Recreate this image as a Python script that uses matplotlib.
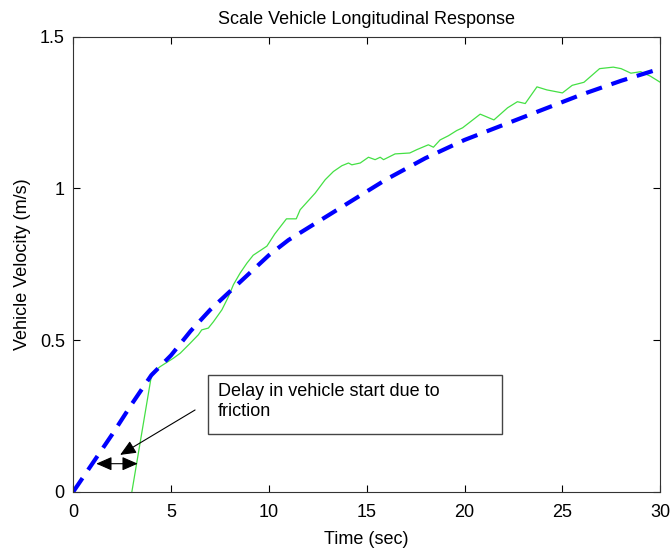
"""Scale vehicle longitudinal response: model vs measured velocity."""

import matplotlib
matplotlib.use("Agg")
import matplotlib.pyplot as plt
from matplotlib.patches import Rectangle

plt.rcParams["font.family"] = ["Liberation Sans", "DejaVu Sans"]

# model (simulated) velocity
model_t = [0, 1, 2, 3, 4, 5, 6, 7, 8, 9, 10, 11, 12, 13, 14, 16, 18, 20,
           22, 24, 26, 28, 30]
model_v = [0, 0.095, 0.19, 0.29, 0.385, 0.45, 0.53, 0.60, 0.66, 0.72, 0.78,
           0.83, 0.87, 0.91, 0.95, 1.03, 1.10, 1.16, 1.21, 1.26, 1.31, 1.355,
           1.395]

# measured velocity from the scale vehicle (starts moving at ~3 s)
meas_t = [3.0, 4.02, 4.45, 5.13, 5.47, 5.98, 6.4, 6.57, 6.91, 7.17, 7.6,
          7.94, 8.19, 8.53, 8.88, 9.2, 9.9, 10.3, 10.9, 11.4, 11.6, 12.37,
          12.88, 13.3, 13.73, 14.07, 14.24, 14.67, 15.09, 15.43, 15.69, 15.86,
          16.45, 17.2, 17.56, 18.15, 18.41, 18.75, 19.18, 19.6, 19.9, 20.8,
          21.5, 22.2, 22.7, 23.1, 23.7, 24.2, 25.0, 25.5, 26.1, 26.9, 27.6,
          28.0, 28.5, 29.0, 29.5, 30]
meas_v = [0, 0.391, 0.413, 0.441, 0.457, 0.49, 0.518, 0.534, 0.54, 0.561,
          0.60, 0.644, 0.683, 0.721, 0.754, 0.78, 0.81, 0.85, 0.90, 0.90,
          0.93, 0.985, 1.029, 1.056, 1.075, 1.084, 1.078, 1.084, 1.103, 1.095,
          1.103, 1.095, 1.114, 1.117, 1.128, 1.144, 1.136, 1.16, 1.174, 1.191,
          1.20, 1.245, 1.226, 1.266, 1.286, 1.28, 1.335, 1.325, 1.315, 1.34,
          1.35, 1.395, 1.40, 1.395, 1.38, 1.385, 1.37, 1.35]

x_ticks = [0, 5, 10, 15, 20, 25, 30]
y_ticks = [0, 0.5, 1, 1.5]
y_tick_labels = ["0", "0.5", "1", "1.5"]

fig = plt.figure(figsize=(6.71, 5.49), dpi=100)
ax = fig.add_axes([0.109, 0.104, 0.875, 0.829])

ax.plot(meas_t, meas_v, color="#44E044", linewidth=0.9)
ax.plot(model_t, model_v, color="#0000FF", linewidth=3, linestyle="--",
        dashes=(4, 2.4))

ax.set_xlim(0, 30)
ax.set_ylim(0, 1.5)
ax.set_xticks(x_ticks)
ax.set_yticks(y_ticks)
ax.set_yticklabels(y_tick_labels)
ax.tick_params(direction="in", top=True, right=True, labelsize=13,
               length=5, width=0.8, pad=6)
ax.tick_params(axis="x", pad=9)
for spine in ax.spines.values():
    spine.set_linewidth(0.8)
    spine.set_color("#333333")

ax.set_title("Scale Vehicle Longitudinal Response", fontsize=13, pad=9)
ax.set_xlabel("Time (sec)", fontsize=13, labelpad=7)
ax.set_ylabel("Vehicle Velocity (m/s)", fontsize=13, labelpad=6)

# annotation box
ax.add_patch(Rectangle((6.9, 0.191), 15.03, 0.195, fill=False,
                       edgecolor="#444444", linewidth=1))
ax.text(7.4, 0.36, "Delay in vehicle start due to\nfriction", fontsize=13,
        va="top", ha="left", linespacing=1.25)

head = "-|>,head_length=0.8,head_width=0.35"
ax.annotate("", xy=(2.4, 0.122), xytext=(6.23, 0.27),
            arrowprops=dict(arrowstyle=head, color="black", lw=0.8,
                            mutation_scale=12, shrinkA=0, shrinkB=0))
ax.annotate("", xy=(1.18, 0.093), xytext=(3.3, 0.093),
            arrowprops=dict(arrowstyle="<|-|>,head_length=0.8,head_width=0.35",
                            color="black", lw=0.8, mutation_scale=12,
                            shrinkA=0, shrinkB=0))

fig.savefig("out.png", dpi=100)
